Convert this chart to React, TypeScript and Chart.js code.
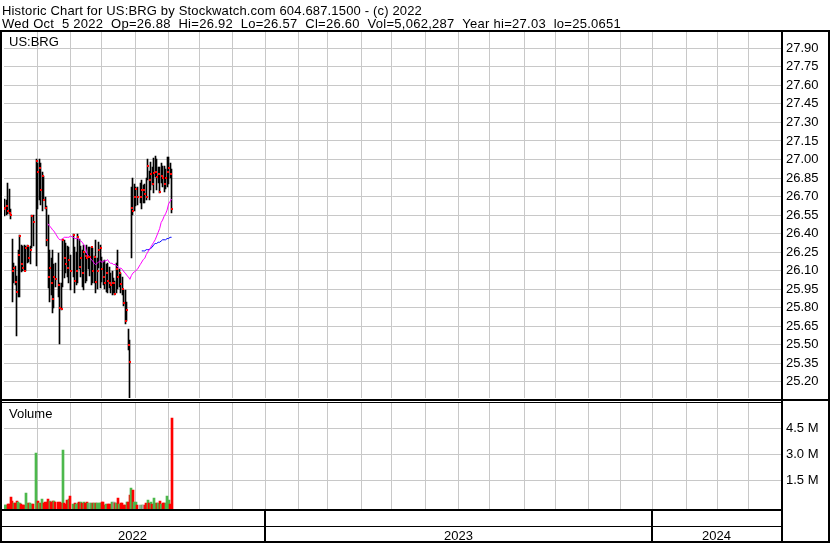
import React, { useEffect, useRef } from 'react';
import { Chart, registerables } from 'chart.js';

Chart.register(...registerables);

// ---------------- data ----------------
const DATA_YEAR = 2022;
const dates = [
  "04-29",
  "05-02", "05-03", "05-04", "05-05", "05-06",
  "05-09", "05-10", "05-11", "05-12", "05-13",
  "05-16", "05-17", "05-18", "05-19", "05-20",
  "05-23", "05-24", "05-25", "05-26", "05-27",
  "05-31", "06-01", "06-02", "06-03",
  "06-06", "06-07", "06-08", "06-09", "06-10",
  "06-13", "06-14", "06-15", "06-16", "06-17",
  "06-21", "06-22", "06-23", "06-24",
  "06-27", "06-28", "06-29", "06-30", "07-01",
  "07-05", "07-06", "07-07", "07-08",
  "07-11", "07-12", "07-13", "07-14", "07-15",
  "07-18", "07-19", "07-20", "07-21", "07-22",
  "07-25", "07-26", "07-27", "07-28", "07-29",
  "08-01", "08-02", "08-03", "08-04", "08-05",
  "08-08", "08-09", "08-10", "08-11", "08-12",
  "08-15", "08-16", "08-17", "08-18", "08-19",
  "08-22", "08-23", "08-24", "08-25", "08-26",
  "08-29", "08-30", "08-31", "09-01", "09-02",
  "09-06", "09-07", "09-08", "09-09",
  "09-12", "09-13", "09-14", "09-15", "09-16",
  "09-19", "09-20", "09-21", "09-22", "09-23",
  "09-26", "09-27", "09-28", "09-29", "09-30",
  "10-03", "10-04", "10-05",
];

const highs = [
  26.66,
  26.68, 26.67, 26.81, 26.76, 26.60,
  26.36, 26.16, 26.14, 26.06, 26.27,
  26.39, 26.31, 26.30, 26.31, 26.30,
  26.31, 26.29, 26.30, 26.55, 26.55,
  27.00, 26.97, 27.00, 26.97,
  26.90, 26.87, 26.70, 26.62, 26.55,
  26.27, 26.20, 26.27, 26.15, 26.16,
  26.24, 26.00, 26.00, 26.36,
  26.35, 26.32, 26.30, 26.29, 26.23,
  26.40, 26.29, 26.25, 26.40,
  26.36, 26.30, 26.27, 26.31, 26.24,
  26.31, 26.29, 26.29, 26.29, 26.28,
  26.22, 26.35, 26.20, 26.33, 26.31,
  26.21, 26.18, 26.19, 26.15, 26.16,
  26.13, 26.08, 26.10, 26.04, 26.02,
  26.16, 26.27, 26.11, 26.08, 26.05,
  25.94, 25.94, 25.85, 25.63, 25.54,
  26.78, 26.85, 26.80, 26.78, 26.78,
  26.81, 26.83, 26.79, 26.80,
  26.85, 27.00, 26.91, 26.98, 26.94,
  27.01, 27.03, 27.00, 26.94, 26.94,
  26.97, 26.95, 26.95, 26.92, 27.02,
  27.02, 26.97, 26.92,
];

const lows = [
  26.55,
  26.54, 26.55, 26.56, 26.56, 26.52,
  25.85, 26.00, 25.98, 25.57, 25.89,
  25.89, 26.09, 26.10, 26.10, 26.10,
  26.16, 26.17, 26.15, 26.28, 26.30,
  26.14, 26.60, 26.67, 26.63,
  26.58, 26.67, 26.60, 26.30, 25.96,
  25.85, 25.90, 25.76, 25.80, 25.97,
  25.89, 25.51, 25.78, 25.97,
  26.04, 26.08, 26.05, 26.00, 25.94,
  26.05, 25.92, 25.98, 26.00,
  26.11, 26.05, 25.97, 25.94, 26.00,
  26.02, 26.11, 26.06, 25.98, 26.00,
  26.00, 25.92, 25.95, 26.12, 25.96,
  26.01, 25.98, 25.95, 25.93, 25.92,
  25.96, 25.92, 25.90, 25.92, 25.90,
  25.92, 25.95, 25.97, 25.92, 25.90,
  25.81, 25.67, 25.69, 25.46, 25.0651,
  26.20, 26.55, 26.58, 26.62, 26.63,
  26.65, 26.60, 26.65, 26.65,
  26.67, 26.83, 26.67, 26.75, 26.79,
  26.73, 26.86, 26.75, 26.81, 26.73,
  26.81, 26.78, 26.74, 26.76, 26.78,
  26.80, 26.85, 26.57,
];

const closes = [
  26.60,
  26.61, 26.62, 26.58, 26.57, 26.55,
  26.10, 26.12, 26.01, 25.93, 26.23,
  26.38, 26.15, 26.12, 26.10, 26.28,
  26.30, 26.20, 26.27, 26.54, 26.49,
  26.99, 26.90, 26.93, 26.75,
  26.87, 26.67, 26.61, 26.35, 26.05,
  26.12, 26.00, 25.87, 26.05, 26.03,
  25.98, 25.80, 25.79, 26.35,
  26.20, 26.15, 26.12, 26.19, 26.10,
  26.39, 26.02, 26.10, 26.37,
  26.13, 26.20, 26.08, 26.25, 26.22,
  26.20, 26.21, 26.21, 26.29, 26.10,
  26.21, 26.01, 26.10, 26.27, 26.28,
  26.11, 26.05, 26.00, 26.08, 26.02,
  26.00, 25.98, 26.00, 26.00, 25.91,
  26.11, 26.05, 26.08, 25.99, 25.95,
  25.84, 25.69, 25.78, 25.50, 25.36,
  26.61, 26.58, 26.70, 26.76, 26.70,
  26.70, 26.75, 26.75, 26.72,
  26.70, 26.95, 26.83, 26.88, 26.80,
  26.89, 26.90, 26.86, 26.88, 26.74,
  26.87, 26.85, 26.80, 26.85, 26.90,
  26.93, 26.88, 26.60,
];

// volume, thousands of shares
const volumesK = [
  40,
  50, 40, 110, 90, 520,
  270, 200, 150, 290, 250,
  190, 120, 60, 60, 750,
  200, 190, 180, 120, 100,
  3080, 260, 200, 200,
  380, 200, 220, 240, 400,
  270, 250, 260, 290, 230,
  230, 250, 200, 3240,
  200, 100, 360, 380, 580,
  100, 200, 120, 200,
  230, 230, 180, 220, 200,
  230, 180, 180, 200, 200,
  200, 200, 200, 200, 200,
  250, 250, 60, 100, 100,
  100, 120, 230, 250, 150,
  150, 480, 100, 200, 200,
  60, 60, 250, 250, 640,
  1060, 920, 250, 250, 60,
  60, 60, 40, 50,
  200, 350, 150, 250, 120,
  460, 200, 200, 200, 290,
  100, 200, 200, 200, 560,
  350, 100, 5062.287,
];

// moving averages
const MA_MAGENTA_START = 29; // first value on 06-10
const maMagenta = [
  26.48, 26.46, 26.45, 26.43, 26.42, 26.40,
  26.36, 26.35, 26.35, 26.36,
  26.37, 26.37, 26.37, 26.37, 26.38,
  26.37, 26.36, 26.36, 26.36,
  26.35, 26.34, 26.33, 26.31, 26.29,
  26.24, 26.22, 26.21, 26.19, 26.18,
  26.16, 26.15, 26.16, 26.17, 26.18,
  26.17, 26.17, 26.18, 26.18, 26.19,
  26.17, 26.16, 26.16, 26.15, 26.15,
  26.14, 26.13, 26.12, 26.12, 26.11,
  26.09, 26.08, 26.06, 26.05, 26.03,
  26.06, 26.08, 26.09, 26.10, 26.11,
  26.15, 26.17, 26.19, 26.20,
  26.23, 26.25, 26.27, 26.29, 26.31,
  26.33, 26.35, 26.38, 26.41, 26.44,
  26.49, 26.51, 26.54, 26.56, 26.59,
  26.64, 26.66, 26.68,
];
const MA_BLUE_START = 89; // first value on 09-07
const maBlue = [
  26.26, 26.26, 26.26,
  26.27, 26.27, 26.27, 26.28, 26.29,
  26.31, 26.32, 26.32, 26.33, 26.33,
  26.34, 26.35, 26.35, 26.35, 26.36,
  26.36, 26.37, 26.37,
];

const priceTicks = [
  25.20, 25.35, 25.50, 25.65, 25.80, 25.95, 26.10, 26.25, 26.40, 26.55,
  26.70, 26.85, 27.00, 27.15, 27.30, 27.45, 27.60, 27.75, 27.90,
];
const volTicks = [1500000, 3000000, 4500000];
const volTickLabels = ['1.5 M', '3.0 M', '4.5 M'];
const years = ['2022', '2023', '2024'];
const yearNumbers = [2022, 2023, 2024];

const headerLine1 = 'Historic Chart for US:BRG by Stockwatch.com 604.687.1500 - (c) 2022';
const headerLine2 = 'Wed Oct  5 2022  Op=26.88  Hi=26.92  Lo=26.57  Cl=26.60  Vol=5,062,287  Year hi=27.03  lo=25.0651';
const symbolLabel = 'US:BRG';
const volumeLabel = 'Volume';

// ---------------- time axis: one slot per weekday ----------------
const DAY = 86400000;
const BASE_T = Date.UTC(2022, 3, 29); // first plotted session
const isWeekend = (t: number) => {
  const wd = new Date(t).getUTCDay();
  return wd === 0 || wd === 6;
};
// number of weekdays after the first session up to the given date
function weekdaySlot(y: number, m: number, d: number) {
  const t = Date.UTC(y, m - 1, d);
  let n = 0;
  for (let cur = BASE_T + DAY; cur <= t; cur += DAY) {
    if (!isWeekend(cur)) n++;
  }
  return n;
}
function firstWeekdaySlot(y: number, m: number) {
  let d = 1;
  while (isWeekend(Date.UTC(y, m - 1, d))) d++;
  return weekdaySlot(y, m, d);
}

const X_MIN = 0.4;
const X_MAX = 522.6;
const PRICE_MIN = 25.049;
const PRICE_MAX = 28.032;
const VOL_MIN = -173000;
const VOL_MAX = 6087000;

const FONT = '"Liberation Sans", Arial, Helvetica, sans-serif';
const RED = '#ff0000';
const GREEN = '#4cb84c';
const GRAY = '#a8a8a8';
const GRID = '#c8c8c8';

function drawFitted(ctx: any, text: string, x: number, y: number, target: number) {
  ctx.letterSpacing = '0px';
  const w = ctx.measureText(text).width;
  const ls = (target - w) / text.length;
  ctx.letterSpacing = ls.toFixed(3) + 'px';
  ctx.fillText(text, x, y);
  ctx.letterSpacing = '0px';
}

// snap bar / marker elements to whole pixels so the thin bars render crisp
const snapPlugin = {
  id: 'pixelSnap',
  afterDatasetsUpdate(chart: any) {
    chart.data.datasets.forEach((_ds: any, i: number) => {
      const meta = chart.getDatasetMeta(i);
      meta.data.forEach((el: any) => {
        if (meta.type === 'bar') {
          const w = Math.round(el.width);
          el.x = w % 2 === 1 ? Math.floor(el.x) + 0.5 : Math.round(el.x);
          el.y = Math.round(el.y);
          el.base = Math.round(el.base);
        } else if (meta.type === 'scatter') {
          el.x = Math.floor(el.x) + 1;
          el.y = Math.round(el.y);
        }
      });
    });
  },
};

const framePlugin = {
  id: 'stockFrame',
  beforeDraw(chart: any) {
    const ctx = chart.ctx;
    ctx.save();
    ctx.fillStyle = '#ffffff';
    ctx.fillRect(0, 0, chart.width, chart.height);
    ctx.restore();
  },
  afterDraw(chart: any) {
    const ctx = chart.ctx;
    const area = chart.chartArea;
    const xs = chart.scales.x;
    const W = chart.width;
    const R = Math.round(area.right);
    ctx.save();

    // separator between price and volume panels
    ctx.fillStyle = '#ffffff';
    ctx.fillRect(2, 398, R - 2, 5);
    ctx.fillStyle = '#000000';
    ctx.fillRect(0, 399, R, 2);
    ctx.fillRect(0, 402, R, 1);
    ctx.fillRect(R, 399, W - R, 2);

    // frame lines
    ctx.fillRect(0, 30, W, 2);          // under header
    ctx.fillRect(0, 30, 2, 513);        // left
    ctx.fillRect(R, 30, 2, 513);        // axis column
    ctx.fillRect(W - 2, 30, 2, 513);    // right
    ctx.fillRect(0, 509, R, 2);         // bottom of volume panel
    ctx.fillRect(0, 526, R, 1);         // year band middle
    ctx.fillRect(0, 541, W, 2);         // bottom

    // year dividers and labels
    const yearStarts = yearNumbers.slice(1).map((y) => firstWeekdaySlot(y, 1));
    const edges = [0, ...yearStarts.map((s) => Math.round(xs.getPixelForValue(s))), R];
    for (let i = 1; i < edges.length - 1; i++) {
      ctx.fillRect(edges[i] - 1, 509, 2, 33);
    }
    ctx.font = '13px ' + FONT;
    ctx.textAlign = 'center';
    ctx.textBaseline = 'alphabetic';
    years.forEach((label, i) => {
      ctx.fillText(label, (edges[i] + edges[i + 1]) / 2, 540);
    });

    // header
    ctx.textAlign = 'left';
    drawFitted(ctx, headerLine1, 2, 15, 420);
    drawFitted(ctx, headerLine2, 2, 28, 619);

    // panel titles
    ctx.fillText(symbolLabel, 9, 46);
    ctx.fillText(volumeLabel, 9, 418);

    ctx.restore();
  },
};

export default function App() {
  const ref = useRef<HTMLCanvasElement>(null);

  useEffect(() => {
    document.body.style.margin = '0';
    const canvas = ref.current;
    if (!canvas) return;

    const xs = dates.map((s) => {
      const [m, d] = s.split('-').map(Number);
      return weekdaySlot(DATA_YEAR, m, d);
    });
    const priceBars = xs.map((x, i) => ({ x, y: [lows[i], highs[i]] }));
    const closePts = xs.map((x, i) => ({ x, y: closes[i] }));
    const volBars = xs.map((x, i) => ({ x, y: [VOL_MIN, volumesK[i] * 1000] }));
    const volColors = closes.map((c, i) =>
      i === 0 ? RED : c > closes[i - 1] ? GREEN : c < closes[i - 1] ? RED : GRAY
    );
    const magPts = maMagenta.map((v, k) => ({ x: xs[MA_MAGENTA_START + k], y: v }));
    const bluePts = maBlue.map((v, k) => ({ x: xs[MA_BLUE_START + k], y: v }));

    const monthTicks: number[] = [];
    for (const y of yearNumbers) {
      for (let m = 1; m <= 12; m++) {
        if (Date.UTC(y, m - 1, 1) <= BASE_T) continue;
        const s = firstWeekdaySlot(y, m);
        if (s > X_MIN + 3 && s < X_MAX) monthTicks.push(s);
      }
    }

    const tickFont = { family: FONT, size: 13 };

    const chart = new Chart(canvas, {
      type: 'bar',
      data: {
        datasets: [
          {
            type: 'scatter',
            data: closePts,
            xAxisID: 'x',
            yAxisID: 'y',
            pointStyle: 'rect',
            pointRadius: 1.4142,
            pointBackgroundColor: RED,
            pointBorderWidth: 0,
            backgroundColor: RED,
            borderWidth: 0,
          } as any,
          {
            type: 'line',
            data: magPts,
            xAxisID: 'x',
            yAxisID: 'y',
            borderColor: '#ff00ff',
            borderWidth: 1,
            pointRadius: 0,
            tension: 0,
          } as any,
          {
            type: 'line',
            data: bluePts,
            xAxisID: 'x',
            yAxisID: 'y',
            borderColor: '#0000ff',
            borderWidth: 1,
            pointRadius: 0,
            tension: 0,
          } as any,
          {
            type: 'bar',
            data: priceBars,
            xAxisID: 'x',
            yAxisID: 'y',
            backgroundColor: '#000000',
            borderWidth: 0,
            barThickness: 1,
            grouped: false,
          } as any,
          {
            type: 'bar',
            data: volBars,
            xAxisID: 'x',
            yAxisID: 'v',
            backgroundColor: volColors,
            borderWidth: 0,
            barThickness: 2,
            grouped: false,
          } as any,
        ],
      },
      options: {
        animation: false,
        responsive: false,
        devicePixelRatio: 1,
        events: [],
        layout: { padding: { left: 2, top: 32, right: 0, bottom: 34 } },
        plugins: {
          legend: { display: false },
          tooltip: { enabled: false },
          title: { display: false },
        },
        scales: {
          x: {
            type: 'linear',
            position: 'bottom',
            offset: false,
            min: X_MIN,
            max: X_MAX,
            afterBuildTicks: (s: any) => {
              s.ticks = monthTicks.map((v) => ({ value: v }));
            },
            afterFit: (s: any) => {
              s.height = 0;
            },
            ticks: { display: false },
            grid: { color: GRID, lineWidth: 1, drawTicks: false, offset: false },
            border: { display: false },
          },
          y: {
            type: 'linear',
            position: 'right',
            stack: 'right',
            stackWeight: 368.5,
            min: PRICE_MIN,
            max: PRICE_MAX,
            afterBuildTicks: (s: any) => {
              s.ticks = priceTicks.map((v) => ({ value: v }));
            },
            afterFit: (s: any) => {
              s.width = 49;
            },
            ticks: {
              autoSkip: false,
              padding: 5,
              color: '#000000',
              font: tickFont,
              callback: (v: any) => Number(v).toFixed(2),
            },
            grid: { color: GRID, lineWidth: 1, drawTicks: false },
            border: { display: false },
          },
          v: {
            type: 'linear',
            position: 'right',
            stack: 'right',
            stackWeight: 108.5,
            min: VOL_MIN,
            max: VOL_MAX,
            afterBuildTicks: (s: any) => {
              s.ticks = volTicks.map((v) => ({ value: v }));
            },
            afterFit: (s: any) => {
              s.width = 49;
            },
            ticks: {
              autoSkip: false,
              padding: 5,
              color: '#000000',
              font: tickFont,
              callback: (_v: any, i: number) => volTickLabels[i],
            },
            grid: { color: GRID, lineWidth: 1, drawTicks: false },
            border: { display: false },
          },
        },
      } as any,
      plugins: [snapPlugin as any, framePlugin as any],
    });

    return () => chart.destroy();
  }, []);

  return (
    <div style={{ width: 830, height: 543, position: 'relative' }}>
      <canvas ref={ref} width={830} height={543} style={{ display: 'block' }} />
    </div>
  );
}
